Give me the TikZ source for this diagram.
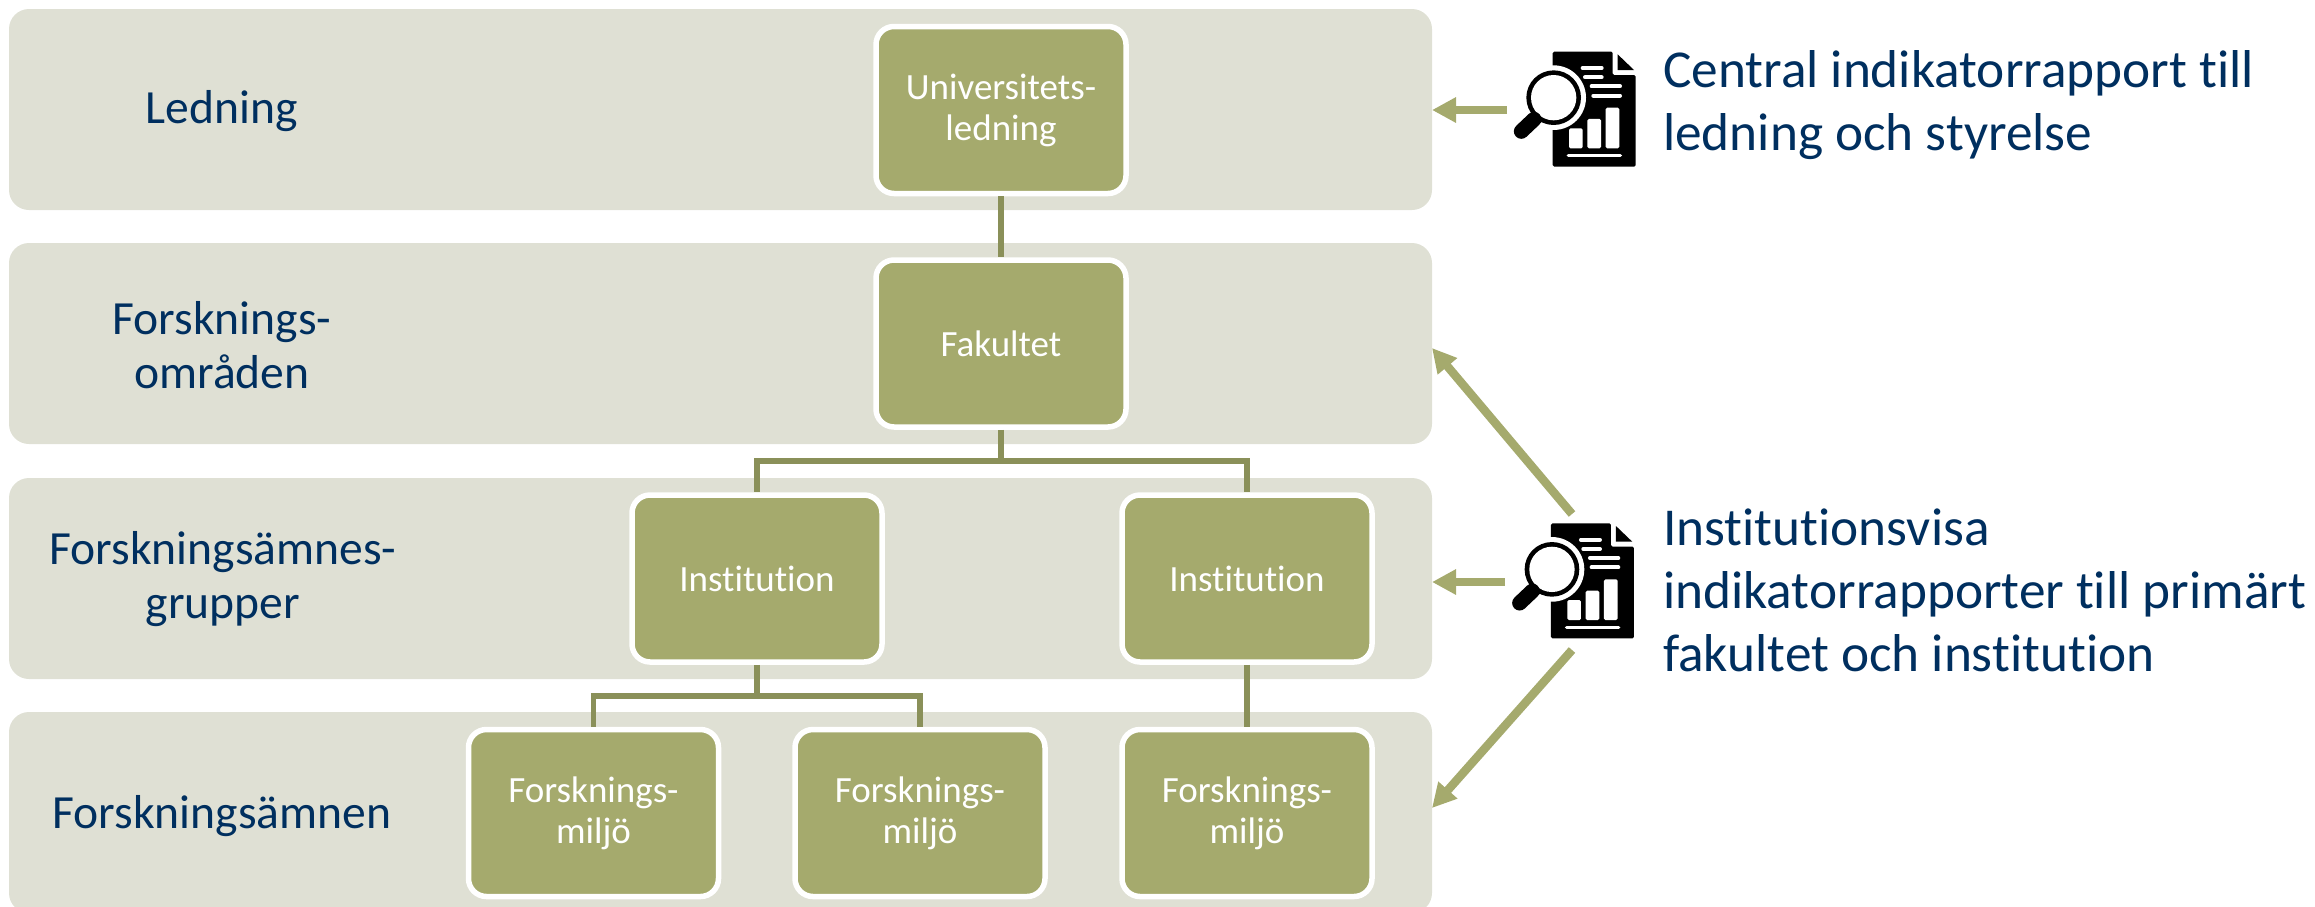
\documentclass[tikz,border=0pt]{standalone}
\usepackage{fontspec}
\setmainfont[RawFeature={-liga}]{Carlito}
\usetikzlibrary{arrows.meta}
\definecolor{bandcol}{HTML}{DFE0D4}
\definecolor{boxcol}{HTML}{A5AA6D}
\definecolor{linkcol}{HTML}{8A9059}
\definecolor{navy}{HTML}{002F5F}
\tikzset{
  band/.style={fill=bandcol,rounded corners=20pt,minimum width=1423pt,minimum height=201pt,inner sep=0pt,outer sep=0pt},
  orgbox/.style={draw=white,line width=5.5pt,fill=boxcol,rounded corners=18pt,minimum width=250pt,minimum height=167pt,inner sep=0pt,text=white,align=center,font=\fontsize{37}{41}\selectfont},
  levellabel/.style={text=navy,align=center,inner sep=0pt,font=\fontsize{47.6}{54}\selectfont},
  reportlabel/.style={text=navy,align=left,anchor=west,inner sep=0pt,font=\fontsize{53.3}{63}\selectfont},
  link/.style={draw=linkcol,line width=5.5pt},
  reportarrow/.style={draw=boxcol,line width=8.5pt,-{Triangle[length=24pt,width=24pt]}},
  whitebar/.style={draw=white,line cap=round}
}
\newcommand{\reporticon}[2]{%
\begin{scope}[shift={(#1,#2)},x=0.3333pt,y=-0.3333pt]
  \fill[black,rounded corners=1.5pt] (218,95) -- (398,95) -- (398,165) -- (467,165) -- (467,440) -- (218,440) -- cycle;
  \fill[black] (413,103) -- (462,150) -- (413,150) -- cycle;
  \fill[white] (221,233) circle[radius=97];
  \fill[black] (221,233) circle[radius=82];
  \fill[white] (221,233) circle[radius=68];
  \draw[black,line width=15pt,line cap=round] (162,298) -- (124,334);
  \draw[black,line width=9pt] (148,284) -- (176,314);
  \draw[whitebar,line width=4pt] (308,144) -- (365,144);
  \draw[whitebar,line width=4pt] (315,172) -- (365,172);
  \draw[whitebar,line width=4pt] (335,199) -- (420,199);
  \draw[whitebar,line width=4pt] (340,227) -- (420,227);
  \draw[whitebar,line width=3.6pt] (265,407) -- (421,407);
  \fill[white,rounded corners=1.5pt] (267,325) rectangle (308,385);
  \fill[white,rounded corners=1.5pt] (322,297) rectangle (363,385);
  \fill[white,rounded corners=1.5pt] (377,263) rectangle (418,385);
\end{scope}}
\begin{document}
\begin{tikzpicture}[x=1pt,y=-1pt]
\path[use as bounding box,clip] (0,0) rectangle (2315,906);
% bands
\node[band] (b1) at (720.5,109.5) {};
\node[band] (b2) at (720.5,343.5) {};
\node[band] (b3) at (720.5,578.5) {};
\node[band] (b4) at (720.5,812.5) {};
% level labels
\node[levellabel] (l1) at (222,111) {Ledning};
\node[levellabel] (l2) at (222,345) {Forsknings-\\områden};
\node[levellabel] (l3) at (223,579.5) {Forskningsämnes-\\grupper};
\node[levellabel] (l4) at (222,816) {Forskningsämnen};
% boxes
\node[orgbox] (univ) at (1001,110) {Universitets-\\ledning};
\node[orgbox] (fak)  at (1001,343.5) {Fakultet};
\node[orgbox] (ins1) at (757,578.5) {Institution};
\node[orgbox] (ins2) at (1247,578.5) {Institution};
\node[orgbox] (mil1) at (593.5,813) {Forsknings-\\miljö};
\node[orgbox] (mil2) at (920,813) {Forsknings-\\miljö};
\node[orgbox] (mil3) at (1247,813) {Forsknings-\\miljö};
% links
\coordinate (busA) at (1001,461);
\coordinate (busB) at (757,696);
\draw[link] (univ.south) -- (fak.north);
\draw[link] (fak.south) -- (busA);
\draw[link] (busA) -| (ins1.north);
\draw[link] (busA) -| (ins2.north);
\draw[link] (ins1.south) -- (busB);
\draw[link] (busB) -| (mil1.north);
\draw[link] (busB) -| (mil2.north);
\draw[link] (ins2.south) -- (mil3.north);
% icons
\reporticon{1480}{20}
\reporticon{1478.3}{491.7}
% arrows
\coordinate (t0) at (1507,110);
\coordinate (h0) at (1432,110);
\coordinate (t1) at (1572,514);
\coordinate (h1) at (1432,348);
\coordinate (t2) at (1505,582);
\coordinate (h2) at (1432,582);
\coordinate (t3) at (1572,650);
\coordinate (h3) at (1432,808);
\draw[reportarrow] (t0) -- (h0);
\draw[reportarrow] (t1) -- (h1);
\draw[reportarrow] (t2) -- (h2);
\draw[reportarrow] (t3) -- (h3);
% report labels
\node[reportlabel] (r1) at (1663,105) {Central indikatorrapport till\\ledning och styrelse};
\node[reportlabel] (r2) at (1663,590.5) {Institutionsvisa\\indikatorrapporter till primärt\\fakultet och institution};
\end{tikzpicture}
\end{document}
